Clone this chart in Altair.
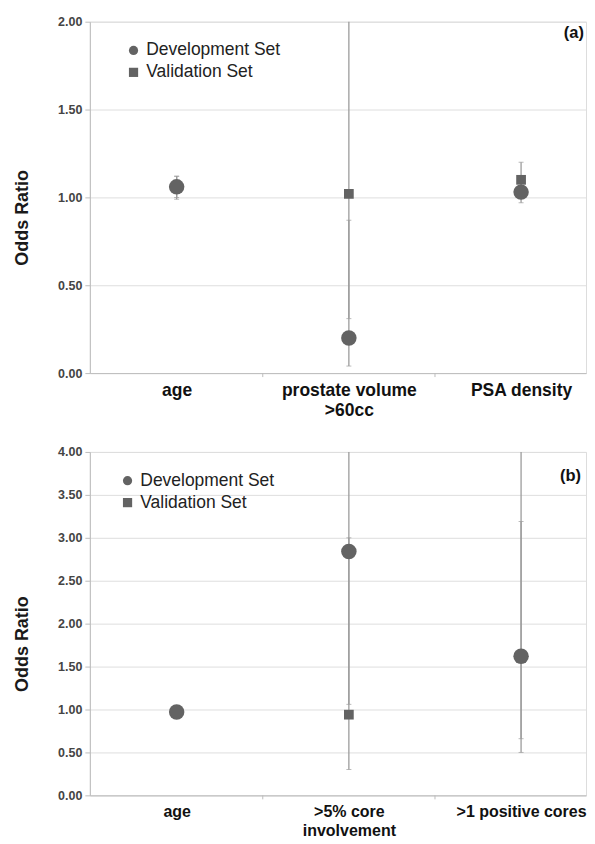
import json
import altair as alt
import pandas as pd

# ---- data ----
series_names = ["Development Set", "Validation Set"]

cats_a = ["age", "prostate volume\n>60cc", "PSA density"]
dev_a = [1.06, 0.20, 1.03]
dev_a_lo = [0.99, 0.04, 0.97]
dev_a_hi = [1.12, 0.87, 1.09]
val_a = [1.06, 1.02, 1.10]
val_a_lo = [1.00, 0.31, 1.00]
val_a_hi = [1.12, 3.40, 1.20]
yticks_a = [0.0, 0.5, 1.0, 1.5, 2.0]

cats_b = ["age", ">5% core\ninvolvement", ">1 positive cores"]
dev_b = [0.97, 2.84, 1.62]
dev_b_lo = [0.94, 1.06, 0.50]
dev_b_hi = [1.00, 7.60, 5.30]
val_b = [0.97, 0.94, 1.60]
val_b_lo = [0.93, 0.30, 0.66]
val_b_hi = [1.01, 3.00, 3.19]
yticks_b = [0.0, 0.5, 1.0, 1.5, 2.0, 2.5, 3.0, 3.5, 4.0]

FONT = "Liberation Sans"
PT = "#636363"
BAR = "#9c9c9c"
W = 497


def label_expr(cats):
    expr = "''"
    for i in reversed(range(len(cats))):
        parts = cats[i].split("\n")
        lab = json.dumps(parts) if len(parts) > 1 else json.dumps(parts[0])
        expr = f"datum.value == {i} ? {lab} : ({expr})"
    return expr


def panel(cats, dev, dlo, dhi, val, vlo, vhi, yticks, H, tag, legx, legy, tagx, tagy,
          xfs, xlh, xpad):
    rows = []
    for i in range(len(cats)):
        rows.append(dict(idx=i, series=series_names[0], value=dev[i], lo=dlo[i], hi=dhi[i]))
        rows.append(dict(idx=i, series=series_names[1], value=val[i], lo=vlo[i], hi=vhi[i]))
    df = pd.DataFrame(rows)
    n = len(cats)
    bounds = pd.DataFrame({"b": [i + 0.5 for i in range(n - 1)]})

    xs = alt.Scale(domain=[-0.504, 2.377], nice=False, zero=False)
    ys = alt.Scale(domain=[yticks[0], yticks[-1]], nice=False, zero=False)
    xaxis = alt.Axis(values=list(range(n)), labelExpr=label_expr(cats), ticks=False,
                     grid=False, title=None, labelFontSize=xfs, labelFontWeight="bold",
                     labelPadding=xpad, labelLineHeight=xlh, labelColor="#111",
                     domainColor="#bdbdbd", labelFlush=False, labelOverlap=False,
                     labelFont=FONT)
    yaxis = alt.Axis(values=yticks, format=".2f", title="Odds Ratio", titleFontSize=18,
                     titleFontWeight="bold", titleColor="#1a1a1a", titlePadding=26,
                     titleY=H / 2 + 20,
                     titleFont=FONT, labelFont=FONT,
                     labelFontSize=12.5, labelFontWeight="bold", labelColor="#444",
                     labelPadding=3, tickSize=5, tickColor="#bdbdbd",
                     domainColor="#bdbdbd", gridColor="#dedede")

    base = alt.Chart(df)
    bars = base.mark_rule(color=BAR, strokeWidth=1.3, clip=True).encode(
        x=alt.X("idx:Q", scale=xs, axis=xaxis),
        y=alt.Y("lo:Q", scale=ys, axis=yaxis, title="Odds Ratio"),
        y2="hi:Q",
    )
    cap_lo = base.mark_tick(color=BAR, size=5, thickness=1, orient="horizontal", clip=True).encode(
        x=alt.X("idx:Q", scale=xs), y=alt.Y("lo:Q", scale=ys, title="Odds Ratio"))
    cap_hi = base.mark_tick(color=BAR, size=5, thickness=1, orient="horizontal", clip=True).encode(
        x=alt.X("idx:Q", scale=xs), y=alt.Y("hi:Q", scale=ys, title="Odds Ratio"))

    shape = alt.Shape("series:N",
                      scale=alt.Scale(domain=series_names, range=["circle", "square"]),
                      legend=alt.Legend(title=None, orient="none", legendX=legx, legendY=legy,
                                        labelFontSize=17.5, labelFont=FONT, labelColor="#222",
                                        symbolSize=85, symbolFillColor=PT,
                                        symbolStrokeColor=PT, symbolStrokeWidth=0,
                                        labelOffset=4, rowPadding=3, padding=0))
    vpts = base.transform_filter(alt.datum.series == series_names[1]).mark_point(
        filled=True, size=95, opacity=1, color=PT).encode(
        x=alt.X("idx:Q", scale=xs), y=alt.Y("value:Q", scale=ys, title="Odds Ratio"),
        shape=shape)
    dpts = base.transform_filter(alt.datum.series == series_names[0]).mark_point(
        filled=True, size=240, opacity=1, color=PT).encode(
        x=alt.X("idx:Q", scale=xs), y=alt.Y("value:Q", scale=ys, title="Odds Ratio"),
        shape=shape)

    btick = alt.Chart(bounds).mark_rule(color="#bdbdbd").encode(
        x=alt.X("b:Q", scale=xs), y=alt.value(H), y2=alt.value(H + 4))

    lab = alt.Chart(pd.DataFrame({"t": [tag]})).mark_text(
        fontWeight="bold", fontSize=16.5, font=FONT, align="right", color="#111").encode(
        text="t:N", x=alt.value(tagx), y=alt.value(tagy))

    return alt.layer(bars, cap_lo, cap_hi, vpts, dpts, btick, lab).properties(width=W, height=H)


pa = panel(cats_a, dev_a, dev_a_lo, dev_a_hi, val_a, val_a_lo, val_a_hi, yticks_a, 352,
           "(a)", 35, 20, W - 2, 11, 17.5, 20, 8)
pb = panel(cats_b, dev_b, dev_b_lo, dev_b_hi, val_b, val_b_lo, val_b_hi, yticks_b, 344,
           "(b)", 29, 20, W - 5, 24, 16, 19, 8)

chart = alt.vconcat(pa, pb, spacing=26).resolve_scale(
    x="independent", y="independent", shape="independent").resolve_legend(
    shape="independent").properties(
    padding={"left": 5, "top": 6, "right": 0, "bottom": 0}).configure_view(
    stroke=None).configure(font=FONT)

chart.save("out.html", embed_options={"renderer": "svg", "actions": False})
